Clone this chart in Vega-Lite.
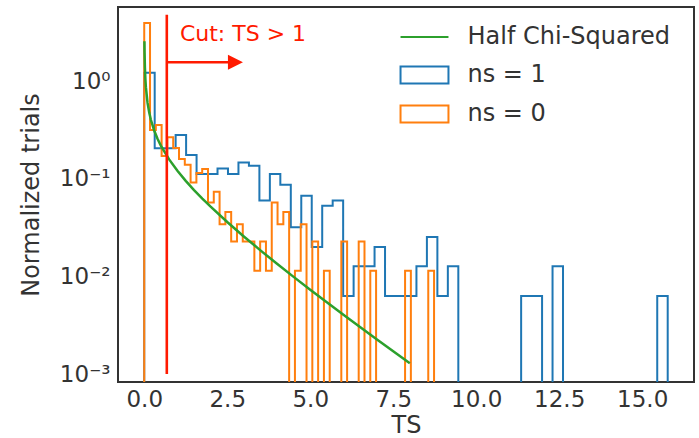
{
  "$schema": "https://vega.github.io/schema/vega-lite/v6.json",
  "width": 576,
  "height": 375,
  "autosize": {"type": "none"},
  "padding": {"left": 118, "top": 7, "right": 5, "bottom": 56},
  "background": "white",
  "config": {
    "font": "DejaVu Sans",
    "view": {"stroke": "#333333", "strokeWidth": 2},
    "axis": {"grid": false, "ticks": false, "domain": false, "labelFontSize": 23, "titleFontSize": 24, "labelColor": "#333333", "titleColor": "#333333", "titleFontWeight": "normal"}
  },
  "datasets": {
    "hist": [
      {"s": "ns = 1", "o": 0, "x": 0, "y": 1e-6},
      {"s": "ns = 1", "o": 1, "x": 0, "y": 1.22},
      {"s": "ns = 1", "o": 2, "x": 0.3154, "y": 0.206},
      {"s": "ns = 1", "o": 3, "x": 0.6307, "y": 0.206},
      {"s": "ns = 1", "o": 4, "x": 0.9461, "y": 0.282},
      {"s": "ns = 1", "o": 5, "x": 1.2614, "y": 0.176},
      {"s": "ns = 1", "o": 6, "x": 1.5768, "y": 0.112},
      {"s": "ns = 1", "o": 7, "x": 1.8922, "y": 0.112},
      {"s": "ns = 1", "o": 8, "x": 2.2075, "y": 0.128},
      {"s": "ns = 1", "o": 9, "x": 2.5229, "y": 0.112},
      {"s": "ns = 1", "o": 10, "x": 2.8382, "y": 0.147},
      {"s": "ns = 1", "o": 11, "x": 3.1536, "y": 0.136},
      {"s": "ns = 1", "o": 12, "x": 3.469, "y": 0.06},
      {"s": "ns = 1", "o": 13, "x": 3.7843, "y": 0.112},
      {"s": "ns = 1", "o": 14, "x": 4.0997, "y": 0.087},
      {"s": "ns = 1", "o": 15, "x": 4.415, "y": 0.032},
      {"s": "ns = 1", "o": 16, "x": 4.7304, "y": 0.067},
      {"s": "ns = 1", "o": 17, "x": 5.0458, "y": 0.02},
      {"s": "ns = 1", "o": 18, "x": 5.3611, "y": 0.053},
      {"s": "ns = 1", "o": 19, "x": 5.6765, "y": 0.06},
      {"s": "ns = 1", "o": 20, "x": 5.9918, "y": 0.0063},
      {"s": "ns = 1", "o": 21, "x": 6.3072, "y": 0.0127},
      {"s": "ns = 1", "o": 22, "x": 6.6226, "y": 0.0127},
      {"s": "ns = 1", "o": 23, "x": 6.9379, "y": 0.02},
      {"s": "ns = 1", "o": 24, "x": 7.2533, "y": 0.0063},
      {"s": "ns = 1", "o": 25, "x": 7.5686, "y": 0.0063},
      {"s": "ns = 1", "o": 26, "x": 7.884, "y": 0.0063},
      {"s": "ns = 1", "o": 27, "x": 8.1994, "y": 0.0127},
      {"s": "ns = 1", "o": 28, "x": 8.5147, "y": 0.0254},
      {"s": "ns = 1", "o": 29, "x": 8.8301, "y": 0.0063},
      {"s": "ns = 1", "o": 30, "x": 9.1454, "y": 0.0127},
      {"s": "ns = 1", "o": 31, "x": 9.4608, "y": 1e-6},
      {"s": "ns = 1", "o": 32, "x": 11.353, "y": 0.0063},
      {"s": "ns = 1", "o": 33, "x": 11.6683, "y": 0.0063},
      {"s": "ns = 1", "o": 34, "x": 11.9837, "y": 1e-6},
      {"s": "ns = 1", "o": 35, "x": 12.299, "y": 0.0127},
      {"s": "ns = 1", "o": 36, "x": 12.6144, "y": 1e-6},
      {"s": "ns = 1", "o": 37, "x": 15.4526, "y": 0.0063},
      {"s": "ns = 1", "o": 38, "x": 15.768, "y": 1e-6},
      {"s": "ns = 0", "o": 0, "x": 0, "y": 1e-6},
      {"s": "ns = 0", "o": 1, "x": 0, "y": 3.95},
      {"s": "ns = 0", "o": 2, "x": 0.1746, "y": 0.317},
      {"s": "ns = 0", "o": 3, "x": 0.3492, "y": 0.357},
      {"s": "ns = 0", "o": 4, "x": 0.5238, "y": 0.172},
      {"s": "ns = 0", "o": 5, "x": 0.6984, "y": 0.267},
      {"s": "ns = 0", "o": 6, "x": 0.873, "y": 0.207},
      {"s": "ns = 0", "o": 7, "x": 1.0476, "y": 0.16},
      {"s": "ns = 0", "o": 8, "x": 1.2222, "y": 0.14},
      {"s": "ns = 0", "o": 9, "x": 1.3968, "y": 0.092},
      {"s": "ns = 0", "o": 10, "x": 1.5714, "y": 0.115},
      {"s": "ns = 0", "o": 11, "x": 1.746, "y": 0.126},
      {"s": "ns = 0", "o": 12, "x": 1.9206, "y": 0.0573},
      {"s": "ns = 0", "o": 13, "x": 2.0952, "y": 0.074},
      {"s": "ns = 0", "o": 14, "x": 2.2698, "y": 0.0344},
      {"s": "ns = 0", "o": 15, "x": 2.4444, "y": 0.0458},
      {"s": "ns = 0", "o": 16, "x": 2.619, "y": 0.0229},
      {"s": "ns = 0", "o": 17, "x": 2.7936, "y": 0.0344},
      {"s": "ns = 0", "o": 18, "x": 2.9682, "y": 0.0229},
      {"s": "ns = 0", "o": 19, "x": 3.1428, "y": 0.0229},
      {"s": "ns = 0", "o": 20, "x": 3.3174, "y": 0.01145},
      {"s": "ns = 0", "o": 21, "x": 3.492, "y": 0.0229},
      {"s": "ns = 0", "o": 22, "x": 3.6666, "y": 0.01145},
      {"s": "ns = 0", "o": 23, "x": 3.8412, "y": 0.0573},
      {"s": "ns = 0", "o": 24, "x": 4.0158, "y": 0.0344},
      {"s": "ns = 0", "o": 25, "x": 4.1904, "y": 0.0458},
      {"s": "ns = 0", "o": 26, "x": 4.365, "y": 1e-6},
      {"s": "ns = 0", "o": 27, "x": 4.5396, "y": 0.01145},
      {"s": "ns = 0", "o": 28, "x": 4.7142, "y": 0.0344},
      {"s": "ns = 0", "o": 29, "x": 4.8888, "y": 1e-6},
      {"s": "ns = 0", "o": 30, "x": 5.0634, "y": 0.0229},
      {"s": "ns = 0", "o": 31, "x": 5.238, "y": 1e-6},
      {"s": "ns = 0", "o": 32, "x": 5.4126, "y": 0.01145},
      {"s": "ns = 0", "o": 33, "x": 5.5872, "y": 1e-6},
      {"s": "ns = 0", "o": 34, "x": 5.9364, "y": 0.0229},
      {"s": "ns = 0", "o": 35, "x": 6.111, "y": 1e-6},
      {"s": "ns = 0", "o": 36, "x": 6.4602, "y": 0.0229},
      {"s": "ns = 0", "o": 37, "x": 6.6348, "y": 1e-6},
      {"s": "ns = 0", "o": 38, "x": 6.8094, "y": 0.01145},
      {"s": "ns = 0", "o": 39, "x": 6.984, "y": 1e-6},
      {"s": "ns = 0", "o": 40, "x": 7.857, "y": 0.01145},
      {"s": "ns = 0", "o": 41, "x": 8.0316, "y": 1e-6},
      {"s": "ns = 0", "o": 42, "x": 8.5554, "y": 0.01145},
      {"s": "ns = 0", "o": 43, "x": 8.73, "y": 1e-6}
    ],
    "chi": [
      {"s": "Half Chi-Squared", "x": 0.006, "y": 2.57},
      {"s": "Half Chi-Squared", "x": 0.01, "y": 1.985},
      {"s": "Half Chi-Squared", "x": 0.02, "y": 1.396},
      {"s": "Half Chi-Squared", "x": 0.035, "y": 1.048},
      {"s": "Half Chi-Squared", "x": 0.05, "y": 0.87},
      {"s": "Half Chi-Squared", "x": 0.1, "y": 0.6},
      {"s": "Half Chi-Squared", "x": 0.15, "y": 0.4778},
      {"s": "Half Chi-Squared", "x": 0.2, "y": 0.4036},
      {"s": "Half Chi-Squared", "x": 0.3, "y": 0.3134},
      {"s": "Half Chi-Squared", "x": 0.4, "y": 0.2582},
      {"s": "Half Chi-Squared", "x": 0.5, "y": 0.2197},
      {"s": "Half Chi-Squared", "x": 0.75, "y": 0.1583},
      {"s": "Half Chi-Squared", "x": 1.0, "y": 0.121},
      {"s": "Half Chi-Squared", "x": 1.25, "y": 0.0955},
      {"s": "Half Chi-Squared", "x": 1.5, "y": 0.0769},
      {"s": "Half Chi-Squared", "x": 1.75, "y": 0.06286},
      {"s": "Half Chi-Squared", "x": 2.0, "y": 0.0519},
      {"s": "Half Chi-Squared", "x": 2.5, "y": 0.03614},
      {"s": "Half Chi-Squared", "x": 3.0, "y": 0.0257},
      {"s": "Half Chi-Squared", "x": 3.5, "y": 0.01853},
      {"s": "Half Chi-Squared", "x": 4.0, "y": 0.0135},
      {"s": "Half Chi-Squared", "x": 4.5, "y": 0.00991},
      {"s": "Half Chi-Squared", "x": 5.0, "y": 0.00732},
      {"s": "Half Chi-Squared", "x": 5.5, "y": 0.00544},
      {"s": "Half Chi-Squared", "x": 6.0, "y": 0.00405},
      {"s": "Half Chi-Squared", "x": 6.5, "y": 0.00303},
      {"s": "Half Chi-Squared", "x": 7.0, "y": 0.002277},
      {"s": "Half Chi-Squared", "x": 7.5, "y": 0.001713},
      {"s": "Half Chi-Squared", "x": 8.0, "y": 0.00129}
    ]
  },
  "encoding": {
    "x": {"field": "x", "type": "quantitative", "scale": {"domain": [-0.79, 16.56], "nice": false, "zero": false},
      "axis": {"title": "TS", "values": [0, 2.5, 5, 7.5, 10, 12.5, 15], "format": ".1f", "labelPadding": 6, "titlePadding": 2}},
    "y": {"field": "y", "type": "quantitative", "scale": {"type": "log", "domain": [0.00083, 5.77], "nice": false},
      "axis": {"title": "Normalized trials", "values": [0.001, 0.01, 0.1, 1], "labelPadding": 8, "titlePadding": 16,
        "labelExpr": "datum.value == 1 ? '10⁰' : datum.value == 0.1 ? '10⁻¹' : datum.value == 0.01 ? '10⁻²' : '10⁻³'"}}
  },
  "layer": [
    {
      "data": {"name": "hist"},
      "transform": [{"filter": "datum.s == 'ns = 1'"}],
      "mark": {"type": "line", "interpolate": "step-after", "strokeWidth": 2, "clip": true},
      "encoding": {
        "order": {"field": "o", "type": "quantitative"},
        "color": {"field": "s", "type": "nominal",
          "scale": {"domain": ["Half Chi-Squared", "ns = 1", "ns = 0"], "range": ["#2ca02c", "#1f77b4", "#ff7f0e"]},
          "legend": {"orient": "none", "legendX": 294.5, "legendY": 18, "title": null, "labelFontSize": 24, "labelColor": "#333333", "labelLimit": 0,
            "symbolSize": 289, "symbolStrokeWidth": 2, "labelOffset": 31, "rowPadding": 13, "padding": 0,
            "encode": {"symbols": {"update": {"fill": {"value": "transparent"},
              "shape": {"signal": "datum.value === 'Half Chi-Squared' ? 'M-2.82,0L2.82,0' : 'M-2.82,-1L2.82,-1L2.82,1L-2.82,1Z'"}}}}}}
      }
    },
    {
      "data": {"name": "hist"},
      "transform": [{"filter": "datum.s == 'ns = 0'"}],
      "mark": {"type": "line", "interpolate": "step-after", "strokeWidth": 2, "clip": true},
      "encoding": {
        "order": {"field": "o", "type": "quantitative"},
        "color": {"field": "s", "type": "nominal"}
      }
    },
    {
      "data": {"name": "chi"},
      "mark": {"type": "line", "strokeWidth": 2.5, "clip": true},
      "encoding": {
        "color": {"field": "s", "type": "nominal"}
      }
    },
    {
      "data": {"values": [{"x": 0.68, "y": 0.001, "y2": 4.8}]},
      "mark": {"type": "rule", "color": "#ff1a00", "strokeWidth": 2.6},
      "encoding": {"y2": {"field": "y2"}}
    },
    {
      "data": {"values": [{"x": 0.7, "x2": 2.75, "y": 1.566}]},
      "mark": {"type": "rule", "color": "#ff1a00", "strokeWidth": 2.4},
      "encoding": {"x2": {"field": "x2"}}
    },
    {
      "data": {"values": [{"x": 2.747, "y": 1.566}]},
      "mark": {"type": "point", "shape": "M-1,-1L1,0L-1,1Z", "size": 225, "filled": true, "color": "#ff1a00", "opacity": 1}
    },
    {
      "data": {"values": [{"x": 1.075, "y": 3.05, "label": "Cut: TS > 1"}]},
      "mark": {"type": "text", "align": "left", "baseline": "middle", "fontSize": 22, "color": "#ff1a00"},
      "encoding": {"text": {"field": "label"}}
    }
  ]
}
